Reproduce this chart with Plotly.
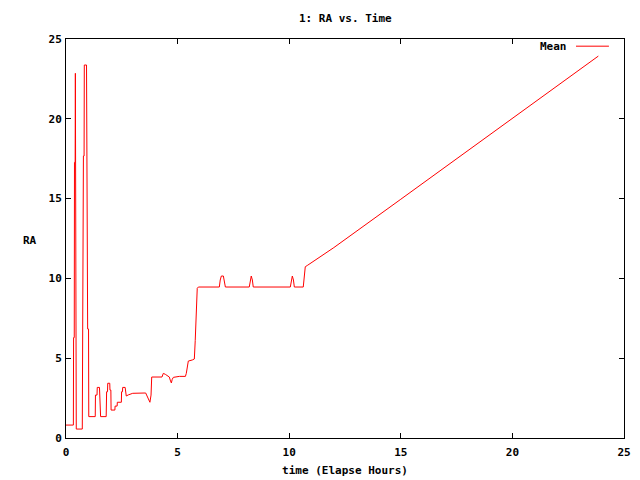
import plotly.graph_objects as go

# Elapsed time (hours) and mean RA values
time_h = [0.00, 0.33, 0.34, 0.37, 0.38, 0.41, 0.42, 0.43, 0.45, 0.46,
          0.73, 0.74, 0.77, 0.78, 0.81, 0.82, 0.92, 0.93, 0.96, 0.97,
          1.01, 1.02, 1.31, 1.32, 1.39, 1.40, 1.50, 1.51, 1.54, 1.55,
          1.80, 1.82, 1.86, 1.87, 1.96, 1.97, 2.01, 2.02, 2.19, 2.20,
          2.29, 2.30, 2.48, 2.49, 2.53, 2.54, 2.65, 2.66, 2.69, 2.70,
          2.79, 2.99, 3.57, 3.64, 3.73, 3.76, 3.81, 3.84, 4.30, 4.36,
          4.45, 4.54, 4.63, 4.67, 4.72, 4.76, 4.81, 5.08, 5.35, 5.39,
          5.44, 5.48, 5.66, 5.75, 5.79, 5.84, 5.88, 5.93, 6.87, 6.91,
          6.96, 7.05, 7.09, 7.14, 8.21, 8.26, 8.30, 8.35, 8.39, 10.05,
          10.10, 10.14, 10.19, 10.23, 10.63, 10.68, 10.72, 10.81, 12.00, 15.00,
          18.00, 21.00, 23.85]
mean_ra = [0.81, 0.81, 6.29, 6.29, 17.27, 17.27, 22.85, 11.67, 11.67, 0.56,
           0.56, 6.29, 6.29, 17.67, 17.67, 23.37, 23.37, 17.84, 17.84, 6.83,
           6.83, 1.34, 1.34, 2.69, 2.69, 3.17, 3.17, 2.69, 2.69, 1.34,
           1.34, 2.90, 2.90, 3.43, 3.43, 3.00, 3.00, 1.75, 1.75, 2.00,
           2.00, 2.24, 2.24, 2.90, 2.90, 3.17, 3.17, 2.86, 2.86, 2.63,
           2.70, 2.80, 2.82, 2.59, 2.24, 2.24, 2.69, 3.82, 3.82, 4.05,
           3.99, 3.88, 3.82, 3.63, 3.45, 3.68, 3.80, 3.86, 3.86, 4.05,
           4.55, 4.82, 4.89, 4.95, 6.10, 8.33, 9.38, 9.46, 9.46, 9.90,
           10.15, 10.15, 9.90, 9.46, 9.46, 9.90, 10.15, 9.90, 9.46, 9.46,
           9.90, 10.15, 9.90, 9.46, 9.46, 10.36, 10.73, 10.81, 11.93, 14.96,
           18.00, 21.05, 23.93]

x_ticks = [0, 5, 10, 15, 20, 25]
y_ticks = [0, 5, 10, 15, 20, 25]

font_family = "DejaVu Sans Mono"
fnt = dict(family=font_family, size=11, color="black", weight="bold")

fig = go.Figure()
fig.add_trace(go.Scatter(x=time_h, y=mean_ra, mode="lines",
                         line=dict(color="#ff0000", width=1), name="Mean",
                         showlegend=False))

axis_common = dict(showgrid=False, zeroline=False, showline=True, linecolor="black",
                   linewidth=1, mirror="ticks", ticks="inside", ticklen=5,
                   tickcolor="black", tickwidth=1, tickfont=fnt, automargin=False)

fig.update_xaxes(range=[0, 25], tickvals=x_ticks, ticktext=[str(v) for v in x_ticks],
                 ticklabelstandoff=4,
                 title=dict(text="time (Elapse Hours)", font=fnt, standoff=8),
                 **axis_common)
fig.update_yaxes(range=[0, 25], tickvals=y_ticks, ticktext=[str(v) for v in y_ticks],
                 ticklabelstandoff=1,
                 **axis_common)

fig.add_annotation(text="1: RA vs. Time", xref="paper", yref="paper", x=0.5, y=1.0,
                   yshift=21, showarrow=False, font=fnt, xanchor="center", yanchor="middle")
fig.add_annotation(text="RA", xref="paper", yref="paper", x=0, xshift=-36, y=0.5,
                   yshift=-2, showarrow=False, font=fnt, xanchor="center", yanchor="middle")
# legend key (gnuplot style: text then line sample)
fig.add_annotation(text="Mean", xref="paper", yref="paper", x=0.9086, xshift=-4, y=0.982,
                   showarrow=False, font=fnt, xanchor="right", yanchor="middle")
fig.add_shape(type="line", xref="paper", yref="paper", x0=0.914, x1=0.973,
              y0=0.982, y1=0.982, line=dict(color="#ff0000", width=1))

fig.update_layout(width=640, height=480, paper_bgcolor="white", plot_bgcolor="white",
                  margin=dict(l=58, r=24, t=31, b=50), font=fnt)

fig.write_html("out.html")
